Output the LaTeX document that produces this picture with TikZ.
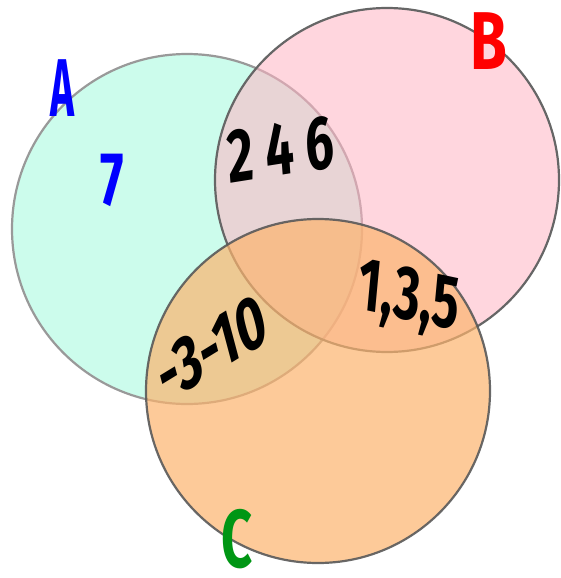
\documentclass[tikz,border=0pt]{standalone}
\usepackage{fontspec}
\setmainfont{Fira Sans}
\definecolor{mintA}{RGB}{204,252,236}\definecolor{pinkB}{RGB}{255,180,195}\definecolor{orangeC}{RGB}{252,180,110}
\definecolor{greenC}{RGB}{0,150,20}
\tikzset{set/.style={line width=2.2pt},hand/.style={font=\fontsize{76}{76}\selectfont\bfseries,xscale=.66,inner sep=0pt},
  tag/.style={hand,font=\fontsize{82}{82}\selectfont\bfseries}}

\begin{document}
\begin{tikzpicture}[x=1pt,y=-1pt]
\useasboundingbox (0,0) rectangle (560,578);
\draw[set,fill=mintA,draw=black!40] (187,229) circle(175);
\draw[set,fill=pinkB,fill opacity=.55,draw=black!60] (387,180) circle(172);
\draw[set,fill=orangeC,fill opacity=.7,draw=black!65,draw opacity=.9] (318,391) circle(172);
\node[tag,blue,xscale=.75] (labA) at (62,88){A};\node[tag,red,xscale=1.1] (labB) at (489,41){B};\node[tag,greenC] (labC) at (237,539){C};
\node[hand,blue] (onlyA) at (112,180){7};
\node[hand,rotate=6] (AB) at (281,150){2 4 6};
\node[hand,rotate=22] (AC) at (212,348){-3-10};
\node[hand,rotate=-8] (BC) at (409,300){1,3,5};
\end{tikzpicture}
\end{document}
